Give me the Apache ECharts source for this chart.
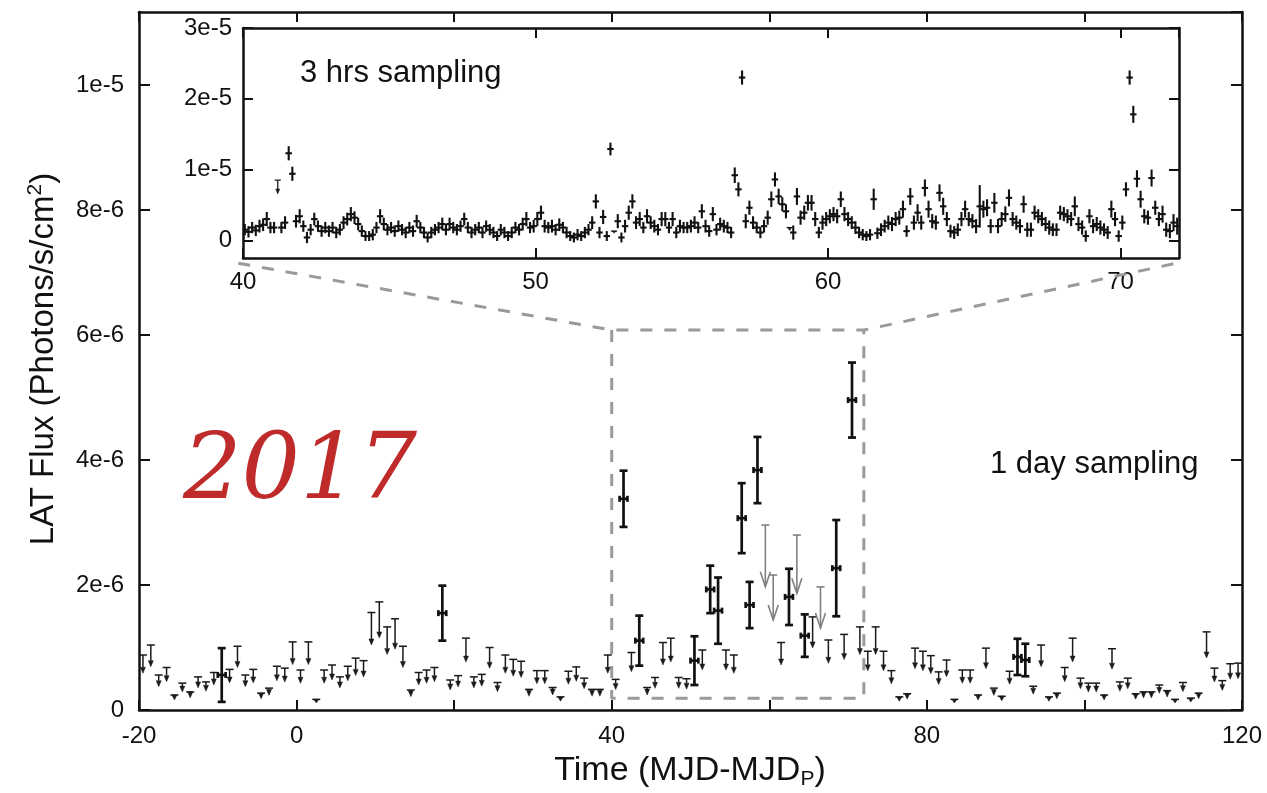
<!DOCTYPE html>
<html><head><meta charset="utf-8">
<script src="https://cdn.jsdelivr.net/npm/echarts@6/dist/echarts.min.js"></script>
<style>html,body{margin:0;padding:0;background:#fff}#c{width:1267px;height:793px}</style>
</head><body><div id="c"></div>
<script>
// ---------- DATA (main panel: 1 day sampling, flux in units of 1e-6 ph/s/cm2) ----------
const MAIN_UNIT = 1e-6;
const detTime = [-9.5, 18.5, 41.5, 43.5, 50.5, 52.5, 53.5, 56.5, 57.5, 58.5, 62.5, 64.5, 68.5, 70.5, 91.5, 92.5];
const detFlux = [0.56, 1.55, 3.38, 1.11, 0.79, 1.93, 1.59, 3.07, 1.68, 3.84, 1.81, 1.19, 2.27, 4.96, 0.85, 0.80];
const detErr  = [0.43, 0.44, 0.45, 0.40, 0.39, 0.38, 0.53, 0.56, 0.37, 0.53, 0.45, 0.34, 0.77, 0.60, 0.29, 0.26];

const ulTime = [-19.5,-18.5,-17.5,-16.5,-15.5,-14.5,-13.5,-12.5,-11.5,-10.5,-8.5,-7.5,-6.5,-5.5,-4.5,-3.5,-2.5,-1.5,-0.5,
  0.5,1.5,2.5,3.5,4.5,5.5,6.5,7.5,8.5,9.5,10.5,11.5,12.5,13.5,14.5,15.5,16.5,17.5,19.5,
  20.5,21.5,22.5,23.5,24.5,25.5,26.5,27.5,28.5,29.5,30.5,31.5,32.5,33.5,34.5,35.5,36.5,37.5,38.5,39.5,
  40.5,42.5,44.5,45.5,46.5,47.5,48.5,49.5,51.5,54.5,55.5,61.5,65.5,67.5,69.5,71.5,72.5,73.5,74.5,75.5,76.5,77.5,78.5,79.5,
  80.5,81.5,82.5,83.5,84.5,85.5,86.5,87.5,88.5,89.5,90.5,93.5,94.5,95.5,96.5,97.5,98.5,99.5,
  100.5,101.5,102.5,103.5,104.5,105.5,106.5,107.5,108.5,109.5,110.5,111.5,112.5,113.5,114.5,115.5,116.5,117.5,118.5,119.5];
const ulFlux = [0.88,1.04,0.56,0.68,0.24,0.43,0.29,0.53,0.45,0.60,0.65,1.02,0.56,0.65,0.27,0.35,0.70,0.67,1.09,
  0.64,1.09,0.17,0.64,0.72,0.53,0.70,0.83,0.79,1.56,1.73,1.33,1.46,1.02,0.32,0.60,0.64,0.68,0.48,
  0.55,1.15,0.53,0.57,1.00,0.44,0.88,0.81,0.78,0.33,0.63,0.63,0.36,0.21,0.62,0.69,0.51,0.33,0.33,0.88,
  0.49,0.92,0.36,0.52,1.08,1.15,0.52,0.50,0.96,0.96,0.88,1.08,1.49,1.12,1.21,1.33,0.94,1.33,0.94,0.63,0.21,0.26,0.99,0.94,
  0.87,0.61,0.80,0.17,0.64,0.64,0.24,0.99,0.35,0.22,0.62,0.38,1.04,0.21,0.27,0.68,1.15,0.51,
  0.43,0.43,0.24,0.98,0.45,0.51,0.26,0.29,0.29,0.40,0.31,0.17,0.44,0.19,0.27,1.25,0.67,0.47,0.74,0.75];
// upper limits drawn in grey with open heads
const ulAltTime = [59.5, 60.5, 63.5, 66.5];
const ulAltFlux = [2.96, 2.16, 2.80, 1.97];

// ---------- DATA (inset: 3 hrs sampling, flux in units of 1e-5) ----------
const INSET_UNIT = 1e-5;
const insetT0 = 40, insetBin = 0.125;   // 3-hour bins starting at day 40
const insetFlux = [
  0.15,0.12,0.18,0.14,0.20,0.22,0.30,0.18,
  0.18,null,0.18,0.25,1.23,0.94,0.27,0.34,
  0.20,0.04,0.15,0.30,0.20,0.13,0.18,0.13,
  0.18,0.11,0.15,0.25,0.30,0.37,0.32,0.23,
  0.13,0.06,0.06,0.08,0.18,0.34,0.23,0.15,
  0.18,0.13,0.20,0.15,0.11,0.18,0.13,0.27,
  0.18,0.11,0.04,0.11,0.15,0.18,0.23,0.15,
  0.23,0.18,0.15,0.20,0.30,0.18,0.11,0.15,
  0.18,0.11,0.20,0.15,0.11,0.06,0.15,0.11,
  0.06,0.11,0.18,0.15,0.23,0.30,0.18,0.20,
  0.30,0.39,0.20,0.18,0.20,0.15,0.22,0.18,
  0.11,0.06,0.04,0.08,0.06,0.11,0.15,0.25,
  0.55,0.11,0.33,0.06,1.29,null,0.27,0.04,
  0.20,0.39,0.55,0.25,0.30,0.18,0.34,0.25,
  0.20,0.15,0.30,0.30,0.18,0.30,0.11,0.20,
  0.18,0.18,0.20,0.25,0.18,0.41,0.20,0.13,
  0.37,0.15,0.23,0.20,0.18,0.11,0.92,0.72,
  2.30,0.27,0.46,0.25,0.18,0.11,0.20,0.32,
  0.58,0.86,0.62,0.51,0.41,null,0.11,0.62,
  0.32,0.39,0.53,0.53,0.30,0.11,0.25,0.30,
  0.34,0.37,0.34,0.58,0.37,0.30,0.25,0.18,
  0.11,0.08,0.06,0.08,0.58,0.10,0.15,0.20,
  0.25,0.23,0.30,0.32,0.44,0.13,0.62,0.25,
  0.39,0.25,0.74,0.44,0.27,0.25,0.67,0.48,
  0.30,0.13,0.11,0.15,0.30,0.44,0.30,0.27,
  0.20,0.48,0.44,0.46,0.20,0.53,0.20,0.30,
  0.37,0.60,0.30,0.25,0.20,0.51,0.15,0.15,
  0.39,0.34,0.30,0.23,0.18,0.15,0.15,0.39,
  0.37,0.34,0.30,0.48,0.23,0.18,0.06,0.34,
  0.20,0.23,0.18,0.15,0.11,0.44,0.30,0.06,
  0.25,0.72,2.30,1.78,0.87,0.58,0.34,0.32,
  0.88,0.46,0.30,0.37,0.15,0.13,0.25,0.20];
const insetErr = [
  .08,.08,.08,.08,.09,.09,.10,.08,
  .08,null,.08,.09,.10,.10,.09,.10,
  .08,.08,.08,.09,.08,.08,.08,.08,
  .08,.08,.08,.09,.09,.10,.09,.09,
  .08,.07,.07,.08,.08,.10,.09,.08,
  .08,.08,.08,.08,.08,.08,.08,.09,
  .08,.08,.07,.08,.08,.08,.09,.08,
  .09,.08,.08,.08,.09,.08,.08,.08,
  .08,.08,.08,.08,.08,.07,.08,.08,
  .07,.08,.08,.08,.09,.10,.08,.09,
  .10,.10,.09,.08,.09,.08,.09,.08,
  .08,.07,.07,.08,.07,.08,.08,.09,
  .10,.08,.10,.07,.09,null,.10,.07,
  .09,.10,.10,.09,.10,.08,.10,.09,
  .09,.08,.10,.10,.08,.10,.08,.09,
  .08,.08,.09,.09,.08,.10,.09,.08,
  .10,.08,.09,.09,.08,.08,.11,.10,
  .10,.10,.10,.09,.08,.08,.09,.10,
  .11,.10,.11,.10,.10,null,.10,.12,
  .10,.10,.11,.11,.10,.08,.10,.10,
  .10,.10,.10,.11,.10,.10,.09,.09,
  .08,.08,.07,.08,.15,.08,.09,.09,
  .10,.10,.10,.10,.12,.08,.12,.10,
  .12,.10,.12,.12,.10,.10,.12,.12,
  .10,.09,.09,.09,.10,.12,.10,.10,
  .10,.30,.12,.12,.10,.14,.10,.10,
  .11,.12,.10,.10,.10,.12,.10,.10,
  .10,.10,.10,.10,.10,.09,.09,.10,
  .10,.10,.10,.14,.10,.10,.08,.10,
  .10,.10,.10,.09,.09,.12,.10,.08,
  .10,.10,.10,.12,.12,.12,.10,.10,
  .12,.10,.10,.12,.10,.10,.12,.12];
const insetUlTime = [41.1875, 52.6875, 58.6875];
const insetUlFlux = [0.85, 0.13, 0.18];

// zoom-window annotation (main-panel data coords: [day, flux 1e-6])
const zoomConnector = [[-7.4, 7.15], [40, 6.08], [72, 6.08], [112.4, 7.17]];
const zoomBox = [[40, 6.08], [40, 0.19], [72, 0.19], [72, 6.08]];

const mainXLabels = [-20, 0, 40, 80, 120];
const insetYTicks = [0, 1e-5, 2e-5, 3e-5];

// ---------- RENDERING ----------
const INK = '#111';
const ARROW_FRAC = 2 / 3;
const INSET_ARROW_FRAC = 0.77;

function ln(x1, y1, x2, y2, stroke, w) {
  return {type: 'line', shape: {x1, y1, x2, y2}, style: {stroke, lineWidth: w, fill: null}};
}

function makeDet(halfT, lw, cap, hcap) {
  return function (params, api) {
    const t = api.value(0), f = api.value(1), e = api.value(2);
    const hi = api.coord([t, f + e]), lo = api.coord([t, f - e]);
    const l = api.coord([t - halfT, f]), r = api.coord([t + halfT, f]);
    const ch = [
      ln(hi[0], hi[1], lo[0], lo[1], INK, lw),
      ln(l[0], l[1], r[0], r[1], INK, lw)
    ];
    if (cap) {
      ch.push(ln(hi[0] - cap, hi[1], hi[0] + cap, hi[1], INK, lw));
      ch.push(ln(lo[0] - cap, lo[1], lo[0] + cap, lo[1], INK, lw));
    }
    if (hcap) {
      ch.push(ln(l[0], l[1] - hcap, l[0], l[1] + hcap, INK, lw));
      ch.push(ln(r[0], r[1] - hcap, r[0], r[1] + hcap, INK, lw));
    }
    return {type: 'group', children: ch};
  };
}

function makeUL(color, lw, capW, headW, headH, open, frac) {
  return function (params, api) {
    const t = api.value(0), u = api.value(1);
    const top = api.coord([t, u]), tip = api.coord([t, u * frac]);
    const ch = [ln(top[0] - capW, top[1], top[0] + capW, top[1], color, lw)];
    if (open) {
      ch.push(ln(top[0], top[1], tip[0], tip[1], color, lw));
      ch.push({type: 'polyline', shape: {points: [[tip[0] - headW / 2, tip[1] - headH], [tip[0], tip[1]], [tip[0] + headW / 2, tip[1] - headH]]},
        style: {stroke: color, lineWidth: lw, fill: null}});
    } else {
      const hb = Math.max(tip[1] - headH, top[1]);
      ch.push(ln(top[0], top[1], top[0], hb, color, lw));
      ch.push({type: 'polygon', shape: {points: [[tip[0] - headW / 2, hb], [tip[0] + headW / 2, hb], [tip[0], tip[1]]]},
        style: {fill: color, stroke: color, lineWidth: 0.5}});
    }
    return {type: 'group', children: ch};
  };
}

const detData = detTime.map((t, i) => [t, detFlux[i] * MAIN_UNIT, detErr[i] * MAIN_UNIT]);
const ulData = ulTime.map((t, i) => [t, ulFlux[i] * MAIN_UNIT]);
const ulAltData = ulAltTime.map((t, i) => [t, ulAltFlux[i] * MAIN_UNIT]);
const insetData = [];
insetFlux.forEach((f, i) => {
  if (f !== null) insetData.push([insetT0 + (i + 0.5) * insetBin, f * INSET_UNIT, insetErr[i] * INSET_UNIT]);
});
const insetUlData = insetUlTime.map((t, i) => [t, insetUlFlux[i] * INSET_UNIT]);
const toMain = p => [p[0], p[1] * MAIN_UNIT];

const axisLineStyle = {color: INK, width: 2.5};
const tickStyle = {color: INK, width: 2};
const expFmt = v => (Math.abs(v) < 1e-12 ? '0' : Number(v).toExponential(0).replace('e+', 'e'));
const labelFont = {fontFamily: 'Liberation Sans', fontSize: 24, color: INK};

function xAx(grid, min, max, interval, pos, showLabel, fmt, margin) {
  return {
    gridIndex: grid, type: 'value', min, max, interval, position: pos,
    axisLine: {show: true, onZero: false, lineStyle: axisLineStyle},
    axisTick: {show: true, inside: true, length: 10, lineStyle: tickStyle},
    axisLabel: Object.assign({show: showLabel, margin, formatter: fmt, showMaxLabel: grid === 0, showMinLabel: true}, labelFont),
    splitLine: {show: false}
  };
}

const option = {
  animation: false,
  backgroundColor: '#fff',
  textStyle: {fontFamily: 'Liberation Sans'},
  grid: [
    {left: 139, top: 12, width: 1103, height: 698, show: false},
    {left: 243, top: 28, width: 936, height: 230, show: true, backgroundColor: '#fff', borderWidth: 0}
  ],
  xAxis: [
    xAx(0, -20, 120, 20, 'bottom', true, v => (mainXLabels.includes(Math.round(v)) ? String(Math.round(v)) : ''), 14),
    xAx(0, -20, 120, 20, 'top', false, null, 8),
    xAx(1, 40, 72, 10, 'bottom', true, v => String(Math.round(v)), 12),
    xAx(1, 40, 72, 10, 'top', false, null, 8)
  ],
  yAxis: [
    {gridIndex: 0, type: 'value', min: 0, max: 1.117e-5, interval: 2e-6, position: 'left',
     axisLine: {show: true, onZero: false, lineStyle: axisLineStyle},
     axisTick: {show: true, inside: true, length: 11, lineStyle: tickStyle},
     axisLabel: Object.assign({margin: 15, formatter: expFmt, showMaxLabel: false}, labelFont),
     splitLine: {show: false}},
    {gridIndex: 0, type: 'value', min: 0, max: 1.117e-5, interval: 2e-6, position: 'right',
     axisLine: {show: true, onZero: false, lineStyle: axisLineStyle},
     axisTick: {show: true, inside: true, length: 11, lineStyle: tickStyle},
     axisLabel: {show: false}, splitLine: {show: false}},
    {gridIndex: 1, type: 'value', min: -2.5e-6, max: 3e-5, position: 'left',
     axisLine: {show: true, onZero: false, lineStyle: axisLineStyle},
     axisTick: {show: true, inside: true, length: 10, lineStyle: tickStyle, customValues: insetYTicks},
     axisLabel: Object.assign({margin: 11, formatter: expFmt, customValues: insetYTicks}, labelFont),
     splitLine: {show: false}},
    {gridIndex: 1, type: 'value', min: -2.5e-6, max: 3e-5, position: 'right',
     axisLine: {show: true, onZero: false, lineStyle: axisLineStyle},
     axisTick: {show: true, inside: true, length: 10, lineStyle: tickStyle, customValues: insetYTicks},
     axisLabel: {show: false}, splitLine: {show: false}}
  ],
  series: [
    {type: 'line', xAxisIndex: 0, yAxisIndex: 0, data: zoomConnector.map(toMain), symbol: 'none', silent: true, z: 1,
     lineStyle: {color: '#9a9a9a', width: 3, type: [12, 12]}},
    {type: 'line', xAxisIndex: 0, yAxisIndex: 0, data: zoomBox.map(toMain), symbol: 'none', silent: true, z: 1,
     lineStyle: {color: '#9a9a9a', width: 3, type: [12, 12]}},
    {type: 'custom', xAxisIndex: 0, yAxisIndex: 0, data: ulData, renderItem: makeUL('#1a1a1a', 1.5, 4, 5, 6, false, ARROW_FRAC), encode: {x: 0, y: 1}, z: 3},
    {type: 'custom', xAxisIndex: 0, yAxisIndex: 0, data: ulAltData, renderItem: makeUL('#808080', 1.6, 4, 10, 15, true, ARROW_FRAC), encode: {x: 0, y: 1}, z: 3},
    {type: 'custom', xAxisIndex: 0, yAxisIndex: 0, data: detData, renderItem: makeDet(0.5, 2.7, 4, 3), encode: {x: 0, y: 1}, z: 4},
    {type: 'custom', xAxisIndex: 2, yAxisIndex: 2, data: insetData, renderItem: makeDet(0.11, 2.1, 0, 0), encode: {x: 0, y: 1}, clip: true, z: 4},
    {type: 'custom', xAxisIndex: 2, yAxisIndex: 2, data: insetUlData, renderItem: makeUL('#1a1a1a', 1.3, 3, 4, 5, false, INSET_ARROW_FRAC), encode: {x: 0, y: 1}, clip: true, z: 4}
  ],
  graphic: [
    {type: 'text', x: 44, y: 359, rotation: Math.PI / 2, z: 10,
     style: {text: '{a|LAT Flux (Photons/s/cm}{s|2}{a|)}', align: 'center', verticalAlign: 'middle', fill: INK,
       rich: {a: {fontFamily: 'Liberation Sans', fontSize: 33, lineHeight: 38, fill: INK},
              s: {fontFamily: 'Liberation Sans', fontSize: 21, lineHeight: 38, verticalAlign: 'top', fill: INK}}}},
    {type: 'text', x: 690, y: 771, z: 10,
     style: {text: '{a|Time (MJD-MJD}{s|P}{a|)}', align: 'center', verticalAlign: 'middle', fill: INK,
       rich: {a: {fontFamily: 'Liberation Sans', fontSize: 34, lineHeight: 38, fill: INK},
              s: {fontFamily: 'Liberation Sans', fontSize: 21, lineHeight: 38, verticalAlign: 'bottom', fill: INK}}}},
    {type: 'text', x: 300, y: 73, z: 10,
     style: {text: '3 hrs sampling', fontFamily: 'Liberation Sans', fontSize: 31, fill: INK, align: 'left', verticalAlign: 'middle'}},
    {type: 'text', x: 990, y: 464, z: 10,
     style: {text: '1 day sampling', fontFamily: 'Liberation Sans', fontSize: 31, fill: INK, align: 'left', verticalAlign: 'middle'}},
    {type: 'text', x: 183, y: 474, z: 10,
     style: {text: '2017', fontFamily: 'DejaVu Serif', fontStyle: 'italic', fontSize: 92, fill: '#bf2b2b', align: 'left', verticalAlign: 'middle'}}
  ]
};

const chart = echarts.init(document.getElementById('c'), null, {renderer: 'canvas'});
chart.setOption(option);
</script></body></html>
